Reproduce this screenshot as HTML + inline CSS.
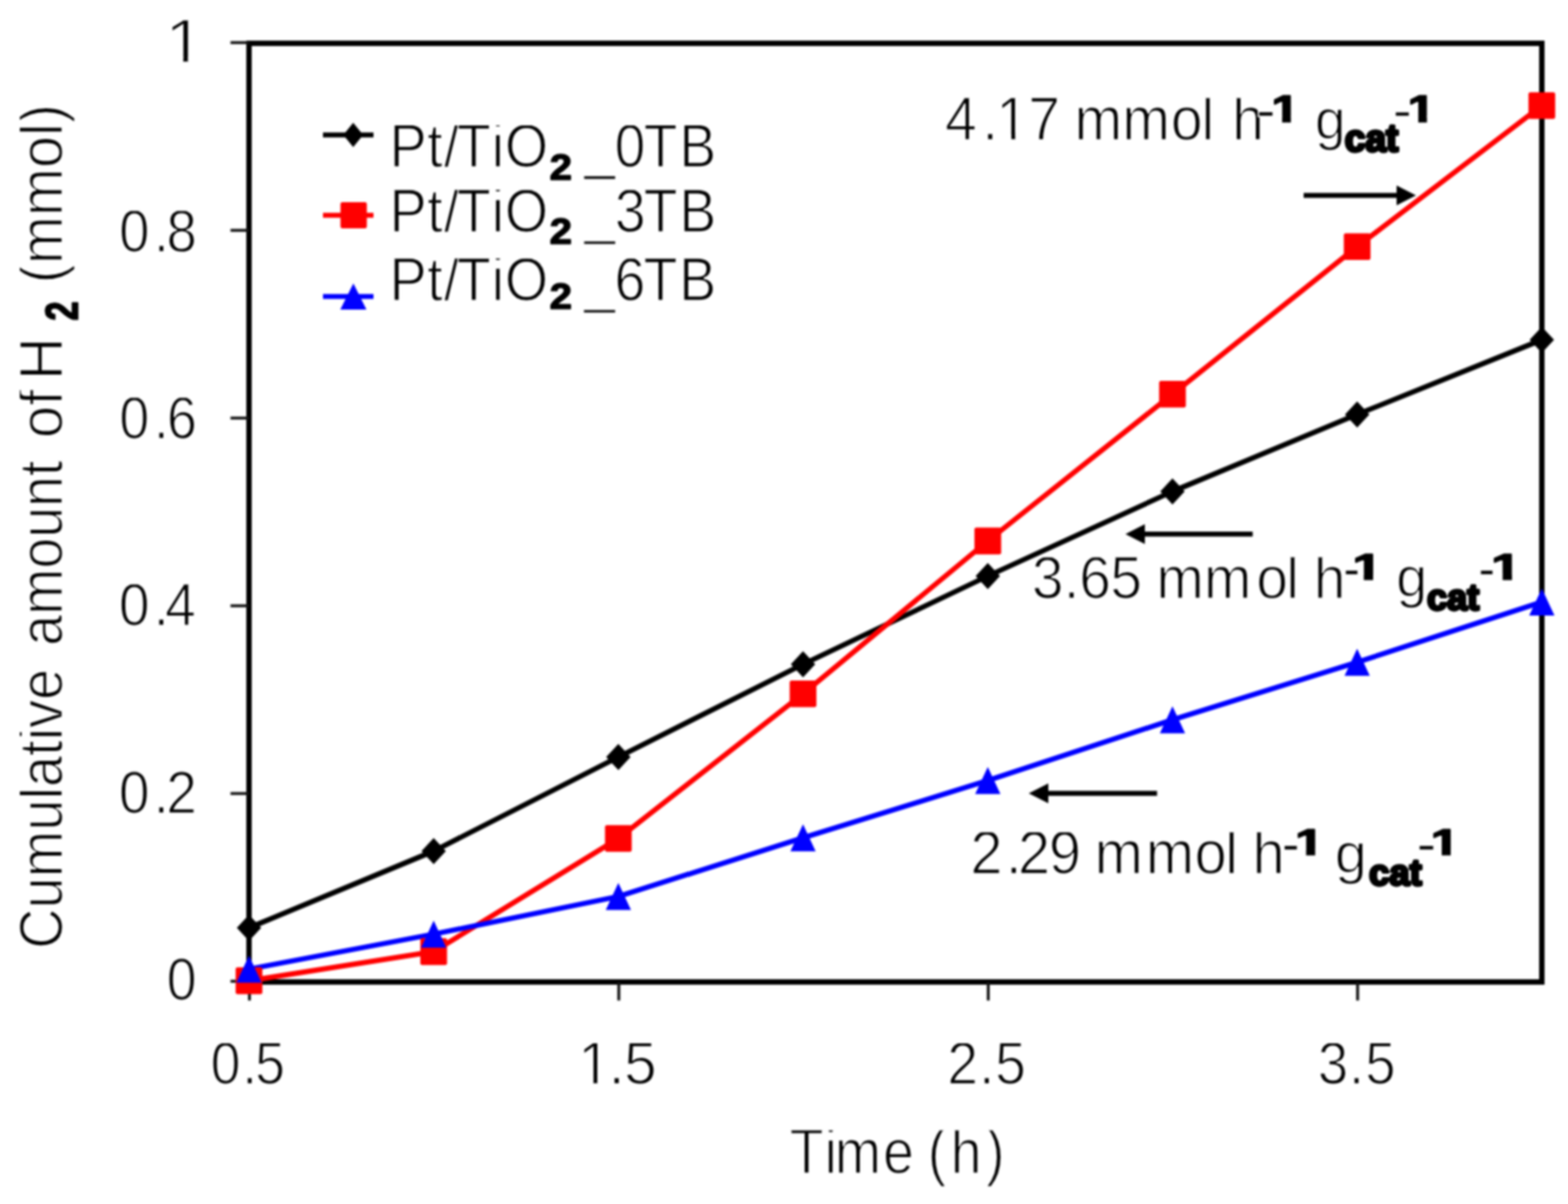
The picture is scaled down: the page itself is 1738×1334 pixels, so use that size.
<!DOCTYPE html>
<html><head><meta charset="utf-8"><title>Cumulative amount of H2 vs time</title>
<style>
html,body{margin:0;padding:0;background:#fff;}
svg{display:block;filter:blur(1px);}
text{font-family:"Liberation Sans",Arial,sans-serif;font-kerning:none;fill:#000;}
.r{stroke:#fff;stroke-width:1.5px;}
.b{font-weight:bold;stroke:#000;stroke-width:1.6px;stroke-linejoin:round;}
</style></head><body>
<svg width="1738" height="1334" viewBox="0 0 1738 1334">
<defs><clipPath id="c0"><path clip-rule="evenodd" d="M-5000 -46.03H5000V5000H-5000Z"/></clipPath>
<clipPath id="c1"><path clip-rule="evenodd" d="M-5000 -46.03H5000V5000H-5000Z M163.37 -7.08H179.04V3.00H163.37Z M183.55 -7.08H198.69V3.00H183.55Z"/></clipPath>
<clipPath id="c2"><path clip-rule="evenodd" d="M-5000 -46.03H5000V5000H-5000Z M673.14 -7.08H688.81V3.00H673.14Z M693.32 -7.08H708.46V3.00H693.32Z"/></clipPath>
<clipPath id="c3"><path clip-rule="evenodd" d="M-5000 -46.03H5000V5000H-5000Z M1185.97 -7.08H1201.64V3.00H1185.97Z M1206.15 -7.08H1221.28V3.00H1206.15Z"/></clipPath>
<clipPath id="c4"><path clip-rule="evenodd" d="M-5000 -5000.00H5000V5000H-5000Z M-0.23 -6.49H9.47V3.00H-0.23Z M17.11 -6.49H26.25V3.00H17.11Z"/></clipPath></defs>
<rect width="1738" height="1334" fill="#fff"/>
<text class="r" font-size="68" transform="matrix(0.9100 0 0 0.9982 0.00 185.05)" x="474.43 520.26 540.74 556.36 598.81 614.75" y="0" clip-path="url(#c0)">Pt/TiO</text>
<text class="b" font-size="44" transform="matrix(1.0095 0 0 0.9343 609.27 199.35)" x="0" y="0">2</text>
<text class="r" font-size="68" transform="matrix(0.9015 0 0 0.9982 0.00 185.05)" x="718.40 755.76 791.46 835.18" y="0" clip-path="url(#c0)">_0TB</text>
<text class="r" font-size="68" transform="matrix(0.9100 0 0 1.0048 0.00 256.75)" x="474.43 520.26 540.74 556.36 598.81 614.75" y="0" clip-path="url(#c0)">Pt/TiO</text>
<text class="b" font-size="44" transform="matrix(1.0095 0 0 0.9436 609.27 270.25)" x="0" y="0">2</text>
<text class="r" font-size="68" transform="matrix(0.9033 0 0 1.0048 0.00 256.75)" x="717.01 754.50 789.93 833.56" y="0" clip-path="url(#c0)">_3TB</text>
<text class="r" font-size="68" transform="matrix(0.9100 0 0 1.0070 0.00 332.76)" x="474.43 520.26 540.74 556.36 598.81 614.75" y="0" clip-path="url(#c0)">Pt/TiO</text>
<text class="b" font-size="44" transform="matrix(1.0095 0 0 0.9189 609.27 341.96)" x="0" y="0">2</text>
<text class="r" font-size="68" transform="matrix(0.9088 0 0 1.0070 0.00 332.76)" x="712.49 749.31 784.95 828.29" y="0" clip-path="url(#c0)">_6TB</text>
<text class="r" font-size="68" transform="matrix(1.1348 0 0 1.0136 0.00 68.96)" x="161.19" y="0" clip-path="url(#c1)">1</text>
<text class="r" font-size="68" transform="matrix(0.8917 0 0 0.9871 0.00 279.24)" x="148.13 191.12 206.83" y="0" clip-path="url(#c0)">0.8</text>
<text class="r" font-size="68" transform="matrix(0.8792 0 0 0.9871 0.00 486.14)" x="150.34 193.98 210.39" y="0" clip-path="url(#c0)">0.6</text>
<text class="r" font-size="68" transform="matrix(0.9019 0 0 0.9937 0.00 693.35)" x="146.08 188.86 202.79" y="0" clip-path="url(#c0)">0.4</text>
<text class="r" font-size="68" transform="matrix(0.8998 0 0 0.9937 0.00 900.55)" x="146.46 189.32 204.81" y="0" clip-path="url(#c0)">0.2</text>
<text class="r" font-size="68" transform="matrix(0.8773 0 0 0.9937 0.00 1107.65)" x="210.56" y="0" clip-path="url(#c0)">0</text>
<text class="r" font-size="68" transform="matrix(0.8753 0 0 0.9783 0.00 1201.03)" x="266.77 306.79 323.16" y="0" clip-path="url(#c0)">0.5</text>
<text class="r" font-size="68" transform="matrix(0.9550 0 0 0.9783 0.00 1201.03)" x="670.96 706.18 724.32" y="0" clip-path="url(#c2)">1.5</text>
<text class="r" font-size="68" transform="matrix(0.9019 0 0 0.9783 0.00 1201.03)" x="1164.16 1203.28 1222.88" y="0" clip-path="url(#c0)">2.5</text>
<text class="r" font-size="68" transform="matrix(0.8893 0 0 0.9783 0.00 1201.03)" x="1642.50 1681.50 1701.68" y="0" clip-path="url(#c0)">3.5</text>
<text class="r" font-size="68" transform="matrix(0.9062 0 0 1.0291 0.00 1299.77)" x="965.78 1008.52 1021.05 1080.04 1117.86 1134.76 1162.70 1206.22" y="0" clip-path="url(#c0)">Time (h)</text>
<text class="r" font-size="68" transform="matrix(0.9329 0 0 1.0048 0.00 154.95)" x="1122.84 1167.19 1183.79 1221.69 1259.51 1276.77 1333.36 1390.98 1427.50 1442.61 1464.04" y="0" clip-path="url(#c3)">4.17 mmol h</text>
<text class="r" font-size="68" transform="matrix(0.9933 0 0 1.0000 1391.75 144.56)" x="0" y="0">-</text>
<text class="b" font-size="44" transform="matrix(1.2618 0 0 0.9601 1409.21 135.03)" x="0" y="0" clip-path="url(#c4)">1</text>
<text class="r" font-size="68" transform="matrix(0.9010 0 0 0.9287 1457.55 153.69)" x="0" y="0">g</text>
<text class="b" font-size="44" transform="matrix(0.9347 0 0 0.9501 1490.58 168.18)" x="0" y="0" style="stroke-width:3.6px">cat</text>
<text class="r" font-size="68" transform="matrix(0.9602 0 0 1.0000 1543.48 144.86)" x="0" y="0">-</text>
<text class="b" font-size="44" transform="matrix(1.2484 0 0 0.9507 1560.24 134.94)" x="0" y="0" clip-path="url(#c4)">1</text>
<text class="r" font-size="68" transform="matrix(0.9283 0 0 0.9871 0.00 662.94)" x="1232.16 1270.19 1288.61 1325.86 1363.68 1380.73 1437.67 1500.04 1535.84 1550.94 1568.62" y="0" clip-path="url(#c0)">3.65 mmol h</text>
<text class="r" font-size="68" transform="matrix(0.8542 0 0 1.0000 1488.58 652.56)" x="0" y="0">-</text>
<text class="b" font-size="44" transform="matrix(1.3491 0 0 0.9256 1498.92 642.46)" x="0" y="0" clip-path="url(#c4)">1</text>
<text class="r" font-size="68" transform="matrix(0.9147 0 0 0.9246 1547.50 661.05)" x="0" y="0">g</text>
<text class="b" font-size="44" transform="matrix(0.9086 0 0 0.9440 1581.77 676.30)" x="0" y="0" style="stroke-width:3.6px">cat</text>
<text class="r" font-size="68" transform="matrix(0.8542 0 0 1.0000 1638.18 652.56)" x="0" y="0">-</text>
<text class="b" font-size="44" transform="matrix(1.3491 0 0 0.9256 1652.82 642.46)" x="0" y="0" clip-path="url(#c4)">1</text>
<text class="r" font-size="68" transform="matrix(0.9460 0 0 1.0026 0.00 968.35)" x="1136.87 1178.36 1192.68 1228.85 1266.67 1282.61 1342.60 1399.54 1435.51 1450.62 1467.41" y="0" clip-path="url(#c0)">2.29 mmol h</text>
<text class="r" font-size="68" transform="matrix(0.9006 0 0 1.0000 1420.50 957.56)" x="0" y="0">-</text>
<text class="b" font-size="44" transform="matrix(1.3021 0 0 0.9256 1435.43 947.46)" x="0" y="0" clip-path="url(#c4)">1</text>
<text class="r" font-size="68" transform="matrix(0.9422 0 0 0.9389 1479.40 966.56)" x="0" y="0">g</text>
<text class="b" font-size="44" transform="matrix(0.9193 0 0 0.9226 1517.47 981.34)" x="0" y="0" style="stroke-width:3.6px">cat</text>
<text class="r" font-size="68" transform="matrix(0.9999 0 0 1.0000 1569.73 957.56)" x="0" y="0">-</text>
<text class="b" font-size="44" transform="matrix(1.3021 0 0 0.9256 1585.73 947.46)" x="0" y="0" clip-path="url(#c4)">1</text>
<rect x="276" y="48" width="1433" height="1040" fill="none" stroke="#000" stroke-width="6"/>
<line x1="255.5" y1="1087.2" x2="276" y2="1087.2" stroke="#111" stroke-width="3.2"/>
<line x1="255.5" y1="879.2" x2="276" y2="879.2" stroke="#111" stroke-width="3.2"/>
<line x1="255.5" y1="671.2" x2="276" y2="671.2" stroke="#111" stroke-width="3.2"/>
<line x1="255.5" y1="463.2" x2="276" y2="463.2" stroke="#111" stroke-width="3.2"/>
<line x1="255.5" y1="255.2" x2="276" y2="255.2" stroke="#111" stroke-width="3.2"/>
<line x1="255.5" y1="47.2" x2="276" y2="47.2" stroke="#111" stroke-width="3.2"/>
<line x1="276.5" y1="1088" x2="276.5" y2="1108.5" stroke="#111" stroke-width="3.2"/>
<line x1="685.9" y1="1088" x2="685.9" y2="1108.5" stroke="#111" stroke-width="3.2"/>
<line x1="1095.4" y1="1088" x2="1095.4" y2="1108.5" stroke="#111" stroke-width="3.2"/>
<line x1="1504.8" y1="1088" x2="1504.8" y2="1108.5" stroke="#111" stroke-width="3.2"/>
<polyline points="276.0,1028.0 480.7,943.0 685.4,838.7 890.1,736.0 1094.9,638.3 1299.6,544.5 1504.3,459.2 1709.0,376.5" fill="none" stroke="#000" stroke-width="5.7" stroke-linejoin="round"/>
<polyline points="276.0,1086.6 480.7,1054.4 685.4,929.0 890.1,768.7 1094.9,599.4 1299.6,436.7 1504.3,273.3 1709.0,117.0" fill="none" stroke="#f00" stroke-width="5.7" stroke-linejoin="round"/>
<polyline points="276.0,1073.8 480.7,1035.0 685.4,993.3 890.1,928.2 1094.9,864.8 1299.6,797.5 1504.3,733.8 1709.0,667.0" fill="none" stroke="#00f" stroke-width="5.7" stroke-linejoin="round"/>
<path d="M276.0 1013.5L289.5 1028.0L276.0 1042.5L262.5 1028.0Z" fill="#000"/>
<path d="M480.7 928.5L494.2 943.0L480.7 957.5L467.2 943.0Z" fill="#000"/>
<path d="M685.4 824.2L698.9 838.7L685.4 853.2L671.9 838.7Z" fill="#000"/>
<path d="M890.1 721.5L903.6 736.0L890.1 750.5L876.6 736.0Z" fill="#000"/>
<path d="M1094.9 623.8L1108.4 638.3L1094.9 652.8L1081.4 638.3Z" fill="#000"/>
<path d="M1299.6 530.0L1313.1 544.5L1299.6 559.0L1286.1 544.5Z" fill="#000"/>
<path d="M1504.3 444.7L1517.8 459.2L1504.3 473.7L1490.8 459.2Z" fill="#000"/>
<path d="M1709.0 362.0L1722.5 376.5L1709.0 391.0L1695.5 376.5Z" fill="#000"/>
<rect x="261.2" y="1071.8" width="29.6" height="29.6" rx="2" fill="#f00"/>
<rect x="465.9" y="1039.6" width="29.6" height="29.6" rx="2" fill="#f00"/>
<rect x="670.6" y="914.2" width="29.6" height="29.6" rx="2" fill="#f00"/>
<rect x="875.3" y="753.9" width="29.6" height="29.6" rx="2" fill="#f00"/>
<rect x="1080.1" y="584.6" width="29.6" height="29.6" rx="2" fill="#f00"/>
<rect x="1284.8" y="421.9" width="29.6" height="29.6" rx="2" fill="#f00"/>
<rect x="1489.5" y="258.5" width="29.6" height="29.6" rx="2" fill="#f00"/>
<rect x="1694.2" y="102.2" width="29.6" height="29.6" rx="2" fill="#f00"/>
<path d="M276.0 1058.8L290.0 1088.8L262.0 1088.8Z" fill="#00f"/>
<path d="M480.7 1020.0L494.7 1050.0L466.7 1050.0Z" fill="#00f"/>
<path d="M685.4 978.3L699.4 1008.3L671.4 1008.3Z" fill="#00f"/>
<path d="M890.1 913.2L904.1 943.2L876.1 943.2Z" fill="#00f"/>
<path d="M1094.9 849.8L1108.9 879.8L1080.9 879.8Z" fill="#00f"/>
<path d="M1299.6 782.5L1313.6 812.5L1285.6 812.5Z" fill="#00f"/>
<path d="M1504.3 718.8L1518.3 748.8L1490.3 748.8Z" fill="#00f"/>
<path d="M1709.0 652.0L1723.0 682.0L1695.0 682.0Z" fill="#00f"/>
<line x1="358" y1="149.5" x2="414" y2="149.5" stroke="#000" stroke-width="5.7"/>
<path d="M391.5 136.0L402.5 149.5L391.5 163.0L380.5 149.5Z" fill="#000"/>
<line x1="358" y1="238.5" x2="414" y2="238.5" stroke="#f00" stroke-width="5.7"/>
<rect x="377.4" y="223.9" width="29.2" height="29.2" rx="2" fill="#f00"/>
<line x1="358" y1="328.5" x2="414" y2="328.5" stroke="#00f" stroke-width="5.7"/>
<path d="M391.7 314.0L406.2 343.0L377.2 343.0Z" fill="#00f"/>
<line x1="1445" y1="216.5" x2="1548" y2="216.5" stroke="#000" stroke-width="5.5"/><path d="M1569.5 216.5L1548 205.5L1548 227.5Z" fill="#000"/>
<line x1="1388.5" y1="591.7" x2="1269" y2="591.7" stroke="#000" stroke-width="5.5"/><path d="M1247.5 591.7L1269 580.7L1269 602.7Z" fill="#000"/>
<line x1="1282.5" y1="879.1" x2="1162" y2="879.1" stroke="#000" stroke-width="5.5"/><path d="M1140.3 879.1L1162 868.1L1162 890.1Z" fill="#000"/>
<g transform="translate(68.1 1047.3) rotate(-90)">
<text class="r" font-size="68" transform="matrix(0.9116 0 0 1.0180 -3.83 0.76)" x="0" y="0" clip-path="url(#c0)">Cumulative</text>
<text class="r" font-size="68" transform="matrix(0.9048 0 0 1.0180 331.81 0.76)" x="0" y="0" clip-path="url(#c0)">amount</text>
<text class="r" font-size="68" transform="matrix(0.9475 0 0 1.0180 561.88 0.76)" x="0" y="0" clip-path="url(#c0)">of</text>
<text class="r" font-size="68" transform="matrix(0.9621 0 0 1.0180 626.41 0.76)" x="0" y="0" clip-path="url(#c0)">H</text>
<text class="r" font-size="68" transform="matrix(0.9396 0 0 1.0180 733.33 0.76)" x="0" y="0" clip-path="url(#c0)">(mmol)</text>
<text class="b" font-size="44" transform="matrix(0.8734 0 0 1.1478 692.17 17.48)" x="0" y="0">2</text>
</g>
</svg>
</body></html>
